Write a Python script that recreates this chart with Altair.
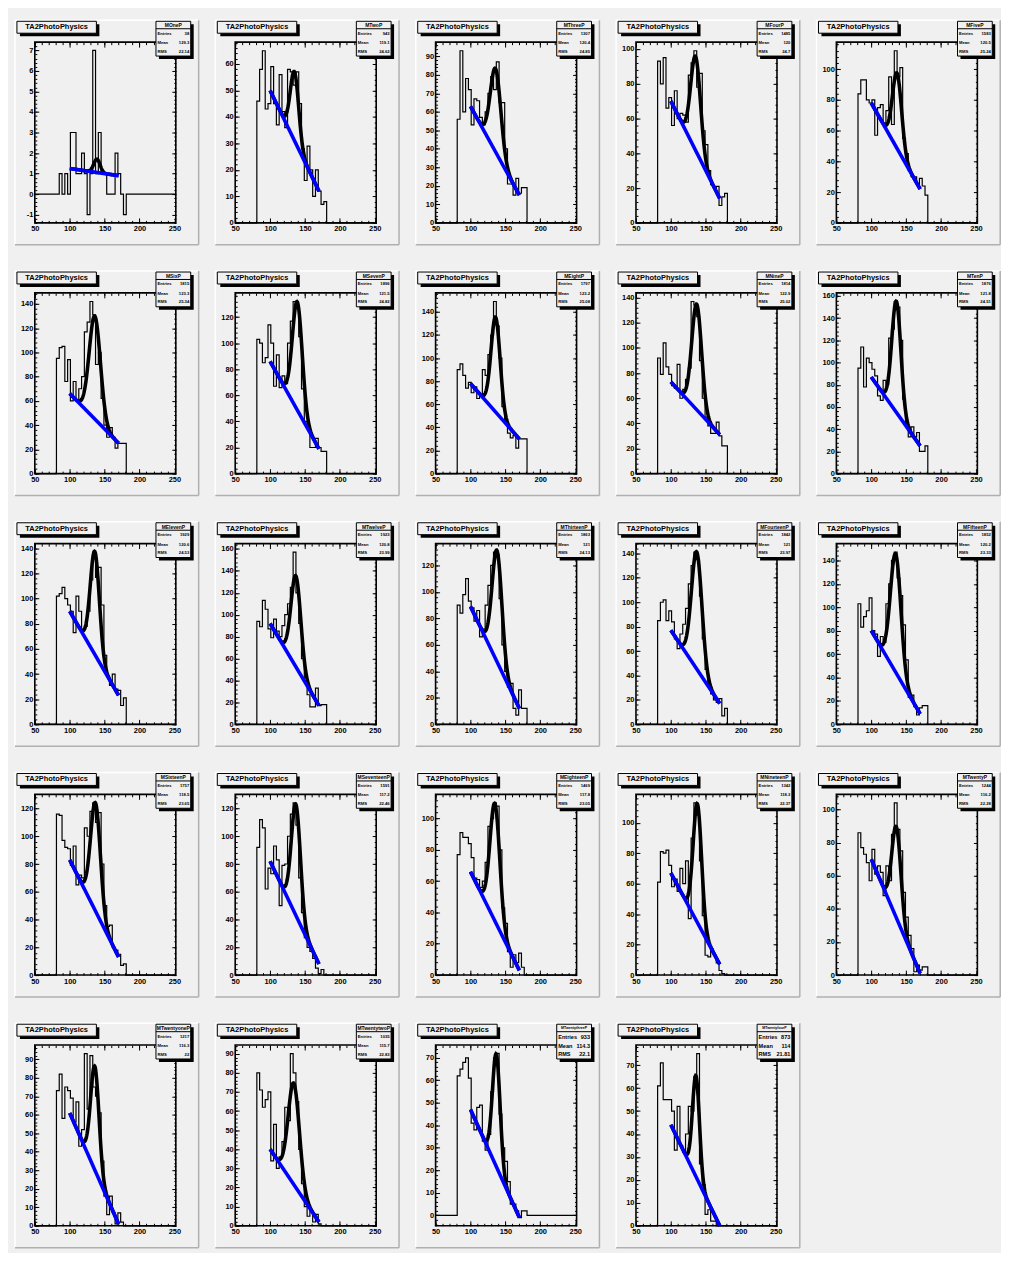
import math
import altair as alt
import pandas as pd

# ---------------- data ----------------
names = ["MOneP", "MTwoP", "MThreeP", "MFourP", "MFiveP", "MSixP", "MSevenP", "MEightP",
         "MNineP", "MTenP", "MElevenP", "MTwelveP", "MThirteenP", "MFourteenP", "MFifteenP",
         "MSixteenP", "MSeventeenP", "MEighteenP", "MNineteenP", "MTwentyP", "MTwentyoneP",
         "MTwentytwoP", "MTwentythreeP", "MTwentyfourP"]
entries = [38, 943, 1307, 1485, 1583, 1815, 1896, 1797, 1814, 1876, 1929, 1923, 1863, 1842,
           1852, 1757, 1591, 1469, 1342, 1244, 1217, 1035, 933, 873]
means = ["129.3", "119.1", "120.4", "120", "120.5", "123.3", "121.5", "123.2", "122.9", "121.8",
         "120.6", "120.8", "121", "121", "120.2", "118.5", "117.2", "117.8", "118.3", "116.2",
         "116.3", "115.7", "114.3", "114"]
rms_values = ["22.14", "24.62", "24.85", "24.7", "25.24", "25.34", "24.82", "25.08", "25.02",
              "24.51", "24.53", "23.99", "24.13", "23.97", "23.33", "23.65", "22.46", "23.05",
              "22.37", "22.28", "22", "22.83", "22.1", "21.81"]

bin_edges = [81, 85, 89, 93, 97, 101, 105, 109, 113, 117, 121, 125, 129, 133, 137, 141, 145,
             149, 153, 157, 161, 165, 169, 173, 177, 181]

counts_01 = [0, 1, 0, 1, 0, 3, 3, 1, 1, 2, 1, -1, 1, 7, 1, 3, 1, 1, 0, 0, 0, 2, 1, 0, -1]
counts_02 = [46, 58, 65, 43, 45, 59, 45, 37, 56, 42, 36, 58, 57, 52, 57, 45, 28, 16, 29, 20, 10, 20, 12, 7, 8]
counts_03 = [56, 93, 60, 78, 72, 53, 67, 66, 57, 53, 60, 70, 79, 72, 87, 65, 65, 40, 21, 21, 15, 24, 16, 19, 19]
counts_04 = [93, 80, 95, 66, 72, 56, 76, 60, 63, 62, 58, 85, 92, 99, 78, 86, 53, 45, 30, 22, 20, 21, 10, 15, 17]
counts_05 = [84, 93, 93, 80, 78, 80, 57, 75, 77, 65, 73, 95, 64, 112, 95, 101, 55, 45, 34, 30, 30, 25, 29, 24, 18]
counts_06 = [95, 104, 105, 76, 94, 60, 76, 60, 70, 80, 117, 125, 142, 131, 90, 100, 62, 40, 30, 38, 30, 21, 25, 25, 25]
counts_07 = [103, 100, 85, 89, 114, 100, 67, 91, 66, 75, 69, 100, 117, 132, 128, 105, 65, 40, 36, 20, 20, 27, 20, 17, 17]
counts_08 = [90, 95, 85, 74, 79, 70, 75, 65, 68, 90, 85, 103, 120, 149, 128, 100, 58, 45, 35, 31, 33, 22, 30, 30, 30]
counts_09 = [92, 79, 104, 85, 79, 70, 68, 87, 60, 67, 75, 84, 137, 134, 125, 90, 60, 45, 38, 32, 32, 41, 30, 22, 22]
counts_10 = [95, 114, 78, 104, 100, 94, 88, 70, 66, 84, 80, 122, 130, 155, 150, 120, 67, 45, 33, 42, 33, 37, 20, 20, 25]
counts_11 = [102, 104, 109, 100, 95, 90, 73, 102, 90, 75, 78, 90, 115, 137, 117, 125, 95, 55, 38, 31, 40, 28, 27, 15, 21]
counts_12 = [94, 89, 113, 105, 87, 79, 96, 85, 80, 90, 100, 110, 125, 157, 120, 92, 60, 40, 27, 16, 16, 33, 17, 18, 18]
counts_13 = [90, 84, 98, 110, 93, 88, 78, 86, 66, 72, 90, 105, 120, 130, 128, 95, 60, 40, 28, 31, 12, 7, 26, 12, 12]
counts_14 = [85, 100, 102, 85, 93, 84, 70, 62, 74, 82, 95, 115, 130, 141, 135, 105, 70, 45, 32, 25, 20, 18, 21, 7, 13]
counts_15 = [103, 83, 92, 97, 108, 80, 77, 58, 75, 70, 103, 120, 140, 147, 125, 110, 85, 55, 23, 25, 15, 8, 14, 16, 16]
counts_16 = [116, 115, 97, 92, 91, 79, 93, 65, 72, 70, 106, 100, 118, 124, 110, 117, 80, 50, 35, 36, 20, 18, 15, 7, 8]
counts_17 = [92, 112, 106, 62, 77, 73, 93, 83, 50, 79, 80, 100, 116, 124, 108, 70, 45, 27, 20, 17, 12, 5, 1, 4, 0]
counts_18 = [77, 91, 88, 88, 84, 75, 62, 61, 56, 60, 72, 95, 100, 110, 108, 80, 43, 33, 15, 5, 13, 8, 14, 5, 0]
counts_19 = [61, 81, 80, 82, 72, 58, 63, 55, 70, 60, 75, 37, 90, 113, 105, 75, 39, 13, 12, 17, 13, 8, 3, 1, 0]
counts_20 = [86, 77, 73, 68, 57, 76, 61, 66, 62, 48, 66, 57, 85, 104, 88, 75, 50, 35, 24, 16, 2, 6, 3, 5, 5]
counts_21 = [73, 82, 58, 75, 73, 69, 56, 67, 43, 52, 93, 63, 92, 75, 70, 61, 35, 16, 6, 16, 7, 1, 7, 2, 0]
counts_22 = [80, 71, 62, 66, 70, 34, 53, 30, 36, 44, 62, 55, 90, 80, 65, 40, 22, 10, 5, 8, 2, 6, 1, 0, 0]
counts_23 = [62, 65, 68, 70, 61, 41, 38, 48, 49, 33, 29, 36, 55, 70, 72, 45, 30, 24, 15, 5, 5, 2, -1, 2, 2]
counts_24 = [61, 71, 55, 55, 55, 50, 33, 52, 35, 32, 40, 52, 50, 65, 75, 27, 18, 5, 7, 2, 2, 0, 0, 0, 0]

hist_counts = [counts_01, counts_02, counts_03, counts_04, counts_05, counts_06, counts_07,
               counts_08, counts_09, counts_10, counts_11, counts_12, counts_13, counts_14,
               counts_15, counts_16, counts_17, counts_18, counts_19, counts_20, counts_21,
               counts_22, counts_23, counts_24]

y_major_step = [1, 10, 10, 20, 20, 20, 20, 20, 20, 20, 20, 20, 20, 20, 20, 20, 20, 20, 20, 20,
                10, 10, 10, 10]

# fit (gaussian peak on a linear background), fitted between fit_low and fit_high
fit_low, fit_high = 100, 170
bg_at_low = [1.25, 50, 63, 70, 78, 66, 86, 78, 73, 87, 90, 92, 89, 77, 80, 83, 82, 66, 67, 70, 61, 40, 47, 44]
bg_at_high = [0.9, 12, 15, 14, 22, 25, 19, 30, 31, 25, 23, 17, 12, 17, 9, 13, 8, 3, 7, 1, 1, 2, -1, 0]
peak_height = [0.65, 26, 45, 54, 49, 85, 83, 82, 84, 100, 82, 83, 84, 96, 101, 78, 80, 75, 78, 55, 56, 53, 50, 44]
peak_centre = [139, 135, 136, 135.5, 137, 136, 139, 136, 137, 136, 136, 137, 138, 137, 135, 137, 137, 135, 138, 136, 136, 134, 137, 136]
peak_width = [4.5, 6, 7.5, 7, 6.5, 8, 7, 6.5, 7, 6.5, 6.5, 7, 7, 7.5, 7.5, 7, 6.5, 7, 6, 6.5, 6, 8, 5.5, 5]

x_domain = [50, 252]
x_major_ticks = [50, 100, 150, 200, 250]
x_minor_ticks = list(range(50, 251, 10))

# ---------------- styling ----------------
W, H = 142, 182
BG = "#f0f0f0"
FONT = "Liberation Sans"
one = pd.DataFrame({"k": [0]})


def rect(x, x2, y, y2, **kw):
    return alt.Chart(one).mark_rect(**kw).encode(
        x=alt.value(x), x2=alt.value(x2), y=alt.value(y), y2=alt.value(y2))


def rule(x, x2, y, y2, **kw):
    return alt.Chart(one).mark_rule(**kw).encode(
        x=alt.value(x), x2=alt.value(x2), y=alt.value(y), y2=alt.value(y2))


def text(s, x, y, size, align="center", weight="bold"):
    return alt.Chart(one).mark_text(
        font=FONT, fontSize=size, fontWeight=weight, align=align, baseline="middle",
        color="black").encode(x=alt.value(x), y=alt.value(y), text=alt.value(s))


def axis(orient, values, size, labels):
    kw = dict(orient=orient, values=values, tickSize=size, offset=-size, labels=labels,
              domain=False, grid=False, ticks=True, tickColor="black", tickWidth=1,
              title=None, zindex=0)
    if labels:
        kw.update(labelFont=FONT, labelFontSize=7.5, labelFontWeight="bold",
                  labelColor="black", labelPadding=2, labelFlush=False,
                  labelOverlap=False, labelExpr="'' + datum.value")
    else:
        kw.update(labels=False)
    return alt.Axis(**kw)


def ticks_between(lo, hi, step):
    v = math.ceil(lo / step - 1e-9) * step
    out = []
    while v <= hi + 1e-9:
        out.append(round(v, 6))
        v += step
    return out


panels = []
for i in range(24):
    counts = hist_counts[i]
    lo, hi = min(min(counts), 0), max(counts)
    r = hi - lo
    ylo = lo - 0.05 * r if lo < 0 else 0
    yhi = hi + 0.05 * r
    xs = alt.Scale(domain=x_domain, nice=False, zero=False)
    ys = alt.Scale(domain=[ylo, yhi], nice=False, zero=False)
    step = y_major_step[i]
    y_major = ticks_between(ylo, yhi, step)
    y_minor = ticks_between(ylo, yhi, step / 5)

    hx = [x_domain[0]] + bin_edges + [x_domain[1]]
    hy = [0] + counts + [0, 0]
    hdf = pd.DataFrame({"x": hx, "y": hy})

    cx = [fit_low + 0.5 * k for k in range(int((fit_high - fit_low) * 2) + 1)]
    a, b = bg_at_low[i], bg_at_high[i]
    cy = [a + (b - a) * (x - fit_low) / (fit_high - fit_low)
          + peak_height[i] * math.exp(-0.5 * ((x - peak_centre[i]) / peak_width[i]) ** 2) for x in cx]
    cdf = pd.DataFrame({"x": cx, "y": cy})
    bdf = pd.DataFrame({"x": [fit_low, fit_high], "y": [a, b]})

    bev = [rule(-20, 165, -22, -22, stroke="white", strokeWidth=1.5),
           rule(-20, -20, -22, 204, stroke="white", strokeWidth=1.5),
           rule(-20, 165, 204, 204, stroke="#b0b0b0", strokeWidth=1.5),
           rule(165, 165, -22, 204, stroke="#b0b0b0", strokeWidth=1.5)]
    frame = rect(0, W, 0, H, filled=False, stroke="black", strokeWidth=1.6)

    hist = alt.Chart(hdf).mark_line(interpolate="step-after", color="black", strokeWidth=1.2).encode(
        x=alt.X("x:Q", scale=xs, axis=axis("bottom", x_major_ticks, 5, True)),
        y=alt.Y("y:Q", scale=ys, axis=axis("left", y_major, 4, True)))
    curve = alt.Chart(cdf).mark_line(color="black", strokeWidth=3.6).encode(
        x=alt.X("x:Q", scale=xs, axis=axis("bottom", x_minor_ticks, 2.5, False)),
        y=alt.Y("y:Q", scale=ys, axis=axis("left", y_minor, 2, False)))
    blue = alt.Chart(bdf).mark_line(color="#0000ff", strokeWidth=3.6).encode(
        x=alt.X("x:Q", scale=xs, axis=axis("top", x_major_ticks, 5, False)),
        y=alt.Y("y:Q", scale=ys, axis=axis("right", y_major, 4, False)))
    extra = alt.Chart(hdf).mark_line(opacity=0).encode(
        x=alt.X("x:Q", scale=xs, axis=axis("top", x_minor_ticks, 2.5, False)),
        y=alt.Y("y:Q", scale=ys, axis=axis("right", y_minor, 2, False)))

    title_parts = [rect(-15, 65, -18, -6, fill="black"),
                   rect(-18, 62, -21, -9, fill=BG, stroke="black", strokeWidth=1),
                   text("TA2PhotoPhysics", 22, -15, 7.5)]
    big = i >= 22
    rs = 5.6 if big else 4.2
    stats_parts = [rect(125, 160, -18, 17, fill="black"),
                   rect(122, 157, -21, 14, fill=BG, stroke="black", strokeWidth=1),
                   rule(122, 157, -13.5, -13.5, stroke="black", strokeWidth=1),
                   text(names[i], 139.5, -17.2, 3.6 if big else 5),
                   text("Entries", 123.5, -8.5, rs, align="left"),
                   text(str(entries[i]), 155.5, -8.5, rs, align="right"),
                   text("Mean", 123.5, 1, rs, align="left"),
                   text(means[i], 155.5, 1, rs, align="right"),
                   text("RMS", 123.5, 9.5, rs, align="left"),
                   text(rms_values[i], 155.5, 9.5, rs, align="right")]

    layers = bev + [frame, hist, curve, blue, extra] + title_parts + stats_parts
    panel = alt.layer(*layers).resolve_axis(x="independent", y="independent").properties(
        width=W, height=H)
    panels.append(panel)

chart = alt.concat(*panels, columns=5, spacing={"row": 70.5, "column": 59.8},
                   bounds="flush").properties(
    padding={"left": 6, "top": 7, "right": 0, "bottom": 0},
    background=BG,
).configure_view(stroke=None)

chart.save("out.html", embed_options={"renderer": "svg", "actions": False})
